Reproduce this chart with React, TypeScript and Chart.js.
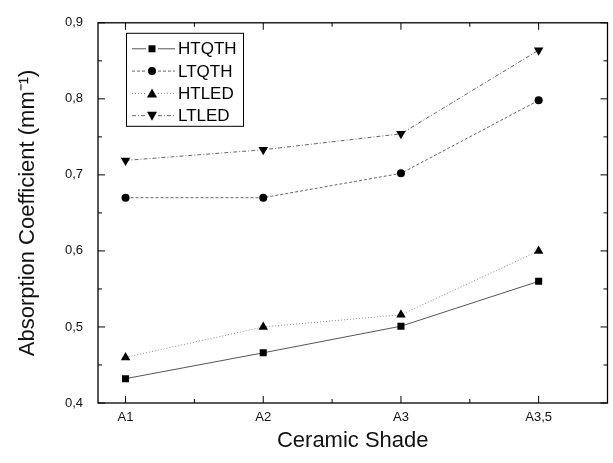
import React, { useEffect, useRef } from "react";
import { Chart, registerables } from "chart.js";
Chart.register(...registerables);

const categories = ["A1", "A2", "A3", "A3,5"];
const seriesNames = ["HTQTH", "LTQTH", "HTLED", "LTLED"];
const htqth = [0.432, 0.466, 0.501, 0.56];
const ltqth = [0.67, 0.67, 0.702, 0.798];
const htled = [0.46, 0.5, 0.516, 0.6];
const ltled = [0.719, 0.733, 0.754, 0.864];
const yTicks = [0.4, 0.5, 0.6, 0.7, 0.8, 0.9];
const xMin = -0.2;
const xMax = 3.5;

const FONT = "'Liberation Sans', Arial, sans-serif";

type Style = { shape: string; dash: number[]; color: string };
const styles: Style[] = [
  { shape: "rect", dash: [], color: "#555" },
  { shape: "circle", dash: [3, 2], color: "#666" },
  { shape: "triUp", dash: [1, 2], color: "#888" },
  { shape: "triDown", dash: [4, 2, 1, 2], color: "#666" },
];

function drawMarker(ctx: CanvasRenderingContext2D, shape: string, x: number, y: number) {
  ctx.save();
  ctx.setLineDash([]);
  ctx.fillStyle = "#000";
  ctx.beginPath();
  if (shape === "rect") {
    ctx.rect(x - 3.5, y - 3.5, 7, 7);
  } else if (shape === "circle") {
    ctx.arc(x, y, 4, 0, Math.PI * 2);
  } else if (shape === "triUp") {
    ctx.moveTo(x, y - 5);
    ctx.lineTo(x + 5, y + 4);
    ctx.lineTo(x - 5, y + 4);
    ctx.closePath();
  } else {
    ctx.moveTo(x, y + 5);
    ctx.lineTo(x + 5, y - 4);
    ctx.lineTo(x - 5, y - 4);
    ctx.closePath();
  }
  ctx.fill();
  ctx.restore();
}

const framePlugin = {
  id: "frame",
  afterDatasetsDraw(chart: any) {
    const { ctx, chartArea } = chart;
    const { left, right, top, bottom } = chartArea;
    const xs = chart.scales.x;
    const ys = chart.scales.y;
    ctx.save();
    ctx.strokeStyle = "#000";
    ctx.lineWidth = 1.3;
    ctx.setLineDash([]);
    ctx.strokeRect(left, top, right - left, bottom - top);
    ctx.lineWidth = 1;
    const major = 7;
    const minor = 4;
    ctx.beginPath();
    // x ticks
    for (let i = 0; i < categories.length; i++) {
      const px = xs.getPixelForValue(i);
      ctx.moveTo(px, bottom);
      ctx.lineTo(px, bottom - major);
      ctx.moveTo(px, top);
      ctx.lineTo(px, top + major);
      const mv = i + 0.5;
      if (mv < xMax) {
        const pm = xs.getPixelForValue(mv);
        ctx.moveTo(pm, bottom);
        ctx.lineTo(pm, bottom - minor);
        ctx.moveTo(pm, top);
        ctx.lineTo(pm, top + minor);
      }
    }
    // y ticks
    for (let i = 0; i < yTicks.length; i++) {
      const py = ys.getPixelForValue(yTicks[i]);
      ctx.moveTo(left, py);
      ctx.lineTo(left + major, py);
      ctx.moveTo(right, py);
      ctx.lineTo(right - major, py);
      if (i < yTicks.length - 1) {
        const pm = ys.getPixelForValue((yTicks[i] + yTicks[i + 1]) / 2);
        ctx.moveTo(left, pm);
        ctx.lineTo(left + minor, pm);
        ctx.moveTo(right, pm);
        ctx.lineTo(right - minor, pm);
      }
    }
    ctx.stroke();
    ctx.restore();
  },
};

const legendPlugin = {
  id: "customLegend",
  afterDraw(chart: any) {
    const { ctx, chartArea } = chart;
    const bx = chartArea.left + 28;
    const by = chartArea.top + 10;
    const bw = 117;
    const bh = 93;
    ctx.save();
    ctx.fillStyle = "#fff";
    ctx.fillRect(bx, by, bw, bh);
    ctx.strokeStyle = "#000";
    ctx.lineWidth = 1;
    ctx.setLineDash([]);
    ctx.strokeRect(bx + 0.5, by + 0.5, bw, bh);
    ctx.font = `17px ${FONT}`;
    ctx.textBaseline = "middle";
    ctx.textAlign = "left";
    for (let i = 0; i < seriesNames.length; i++) {
      const y = by + 16 + i * 22.3;
      const st = styles[i];
      const mx = bx + 26;
      ctx.strokeStyle = st.color;
      ctx.lineWidth = 1;
      ctx.setLineDash(st.dash);
      ctx.beginPath();
      ctx.moveTo(bx + 6, y);
      ctx.lineTo(mx - 6, y);
      ctx.moveTo(mx + 6, y);
      ctx.lineTo(bx + 49, y);
      ctx.stroke();
      drawMarker(ctx, st.shape, mx, y);
      ctx.fillStyle = "#000";
      ctx.fillText(seriesNames[i], bx + 52, y + 1);
    }
    ctx.restore();
  },
};

const seriesValues = [htqth, ltqth, htled, ltled];

export default function App() {
  const ref = useRef<HTMLCanvasElement | null>(null);
  useEffect(() => {
    if (!ref.current) return;
    const pointStyles = ["rect", "circle", "triangle", "triangle"];
    const chart = new Chart(ref.current, {
      type: "line",
      data: {
        datasets: seriesNames.map((name, k) => ({
          label: name,
          data: seriesValues[k].map((v, i) => ({ x: i, y: v })),
          borderColor: styles[k].color,
          borderWidth: 1,
          borderDash: styles[k].dash,
          pointStyle: pointStyles[k] as any,
          pointRotation: k === 3 ? 180 : 0,
          pointRadius: k === 0 ? 5 : k === 1 ? 4 : 5.5,
          pointBackgroundColor: "#000",
          pointBorderColor: "#000",
          pointBorderWidth: 0,
          fill: false,
          tension: 0,
        })),
      },
      options: {
        responsive: false,
        animation: false,
        layout: { padding: { top: 22, right: 2, left: 0, bottom: 0 } },
        plugins: {
          legend: { display: false },
          tooltip: { enabled: false },
        },
        scales: {
          x: {
            type: "linear",
            min: xMin,
            max: xMax,
            grid: { display: false, drawTicks: false },
            border: { display: false },
            afterBuildTicks: (scale: any) => {
              scale.ticks = categories.map((_, i) => ({ value: i }));
            },
            afterFit: (scale: any) => {
              scale.height = 60;
            },
            ticks: {
              padding: 7,
              color: "#111",
              font: { size: 13, family: FONT },
              maxRotation: 0,
              autoSkip: false,
              callback: (v: any) => categories[Math.round(Number(v))] ?? "",
            },
            title: {
              display: true,
              text: "Ceramic Shade",
              color: "#111",
              font: { size: 22, family: FONT },
              padding: { top: 0, bottom: 9 },
            },
          },
          y: {
            type: "linear",
            min: 0.4,
            max: 0.9,
            grid: { display: false, drawTicks: false },
            border: { display: false },
            afterBuildTicks: (scale: any) => {
              scale.ticks = yTicks.map((v) => ({ value: v }));
            },
            afterFit: (scale: any) => {
              scale.width = 98;
            },
            ticks: {
              padding: 15,
              color: "#111",
              font: { size: 13, family: FONT },
              callback: (v: any) => Number(v).toFixed(1).replace(".", ","),
            },
            title: {
              display: true,
              text: "Absorption Coefficient (mm\u207B\u00B9)",
              color: "#111",
              font: { size: 22, family: FONT },
              padding: { top: 15, bottom: 0 },
            },
          },
        },
      },
      plugins: [framePlugin, legendPlugin],
    } as any);
    return () => chart.destroy();
  }, []);
  return (
    <div style={{ position: "absolute", left: 0, top: 0, width: 613, height: 463, background: "#fff" }}>
      <canvas ref={ref} width={613} height={463} />
    </div>
  );
}
